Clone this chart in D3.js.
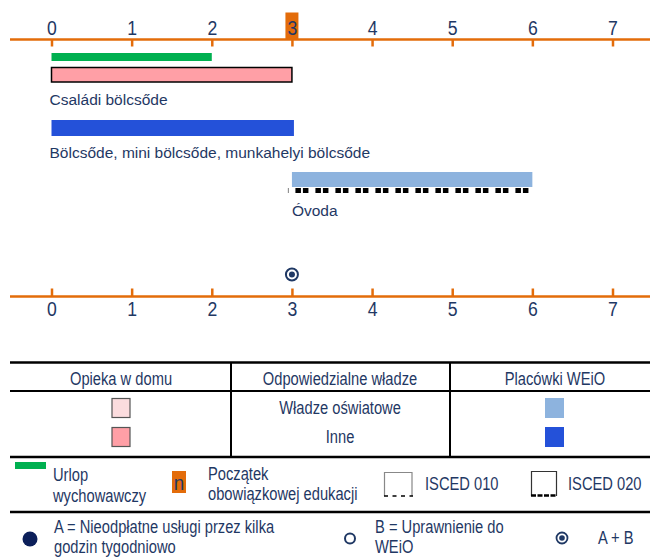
<!DOCTYPE html>
<html><head><meta charset="utf-8">
<script src="https://cdn.jsdelivr.net/npm/d3@7"></script>
<style>
body{margin:0;background:#fff;}
svg{display:block;}
</style></head>
<body>
<svg id="chart" width="650" height="558"></svg>
<script>
// ---- data ----
const ageTicks = [0,1,2,3,4,5,6,7];
const compulsoryStart = 3;
const leave = [{name:"Urlop wychowawczy", from:0, to:2}];
const homeCare = [{name:"Családi bölcsőde", from:0, to:3, type:"inne"}];
const ecec = [
  {name:"Bölcsőde, mini bölcsőde, munkahelyi bölcsőde", from:0, to:3, type:"inne", isced:null},
  {name:"Óvoda", from:3, to:6, type:"edu", isced:"020"}
];
const entitlement = [{age:3, kind:"A+B"}];
const tableHeaders = ["Opieka w domu","Odpowiedzialne władze","Placówki WEiO"];
const authorities = ["Władze oświatowe","Inne"];
const legendLabels = {
  leave:["Urlop","wychowawczy"],
  compulsory:["Początek","obowiązkowej edukacji"],
  isced010:"ISCED 010", isced020:"ISCED 020",
  A:["A = Nieodpłatne usługi przez kilka","godzin tygodniowo"],
  B:["B = Uprawnienie do","WEiO"],
  AB:"A + B"
};

// ---- styles ----
const C = {
  orange:"#e36c0a", navy:"#1f3864", green:"#00b050",
  pinkLight:"#fbdcde", pink:"#ff9fa6", blueLight:"#8db3de", blue:"#2451d9"
};
const regular = "'Liberation Sans',Arial,sans-serif";
const NX = 0.84; // horizontal condensing for narrow-looking text

const svg = d3.select("#chart");
const x = d3.scaleLinear().domain([0,7]).range([51.5,612.5]);

function styleAxis(g){
  g.select(".domain").remove();
  g.insert("line",":first-child").attr("x1",10).attr("x2",650).attr("stroke",C.orange).attr("stroke-width",2.5);
  g.selectAll(".tick line").attr("stroke",C.orange).attr("stroke-width",2.5);
  g.selectAll(".tick text").attr("fill",C.navy).style("font-family",regular).style("font-size","21px")
    .attr("transform",`scale(${NX},1)`);
}

// top axis
const topAxis = d3.axisTop(x).tickValues(ageTicks).tickFormat(d3.format("d"))
  .tickSizeInner(-7).tickSizeOuter(0).tickPadding(5);
const gTop = svg.append("g").attr("transform","translate(0,39.5)");
gTop.append("rect").attr("x",x(compulsoryStart)-6.5).attr("y",-27).attr("width",13).attr("height",27)
  .attr("fill",C.orange);
gTop.call(topAxis);
styleAxis(gTop);

// bottom axis
const botAxis = d3.axisBottom(x).tickValues(ageTicks).tickFormat(d3.format("d"))
  .tickSizeInner(-8).tickSizeOuter(0).tickPadding(5);
const gBot = svg.append("g").attr("transform","translate(0,296.5)").call(botAxis);
styleAxis(gBot);

// leave bar
svg.selectAll(".leave").data(leave).join("rect").attr("class","leave")
  .attr("x",d=>x(d.from)).attr("width",d=>x(d.to)-x(d.from))
  .attr("y",53).attr("height",8).attr("fill",C.green);

// home care bar
svg.selectAll(".home").data(homeCare).join("rect").attr("class","home")
  .attr("x",d=>x(d.from)).attr("width",d=>x(d.to)-x(d.from))
  .attr("y",67.5).attr("height",14.5).attr("fill",C.pink).attr("stroke","#000").attr("stroke-width",1.5);
svg.selectAll(".homeLbl").data(homeCare).join("text").attr("class","homeLbl")
  .attr("x",d=>x(d.from)-2).attr("y",105).text(d=>d.name)
  .attr("fill",C.navy).style("font-family",regular).style("font-size","15.5px");

// ecec bars
const ecY = [120, 172];
ecec.forEach((d,i)=>{
  const y0 = ecY[i];
  svg.append("rect").attr("x",x(d.from)).attr("width",x(d.to)-x(d.from)+(i===0?2:0))
    .attr("y",y0).attr("height",i===0?16:15).attr("fill",d.type==="edu"?C.blueLight:C.blue);
  if(d.isced==="020"){
    svg.append("line").attr("x1",x(d.from)-4).attr("x2",x(d.to)).attr("y1",y0+18.5).attr("y2",y0+18.5)
      .attr("stroke","#000").attr("stroke-width",5).attr("stroke-dasharray","5.5,2,5.5,7")
      .attr("stroke-dashoffset",-7.5);
  }
  svg.append("text").attr("x",x(d.from)-(i===0?2:0)).attr("y",y0+(i===0?38:44)).text(d.name)
    .attr("fill",C.navy).style("font-family",regular).style("font-size","15.5px");
});

// entitlement marker
entitlement.forEach(d=>{
  const g = svg.append("g").attr("transform",`translate(${x(d.age)},274.5)`);
  g.append("circle").attr("r",6).attr("fill","#fff").attr("stroke",C.navy).attr("stroke-width",2);
  g.append("circle").attr("r",3).attr("fill",C.navy);
});

// narrow text helper
function txt(xx,yy,s,anchor){
  return svg.append("text").attr("transform",`translate(${xx},${yy}) scale(${NX},1)`)
   .text(s).attr("text-anchor",anchor||"start")
   .attr("fill",C.navy).style("font-family",regular).style("font-size","17.5px");
}

// ---- table ----
const colX = [121, 340, 555];
svg.append("line").attr("x1",10).attr("x2",650).attr("y1",362.5).attr("y2",362.5).attr("stroke","#000").attr("stroke-width",2.5);
svg.append("line").attr("x1",10).attr("x2",650).attr("y1",391).attr("y2",391).attr("stroke","#000").attr("stroke-width",2);
[231,450].forEach(v=>svg.append("line").attr("x1",v).attr("x2",v).attr("y1",362).attr("y2",457).attr("stroke","#000").attr("stroke-width",2));
tableHeaders.forEach((d,i)=>txt(colX[i],385,d,"middle"));
const rowY = [408, 437];
authorities.forEach((d,i)=>txt(colX[1],rowY[i]+6,d,"middle"));
[C.pinkLight,C.pink].forEach((c,i)=>svg.append("rect").attr("x",colX[0]-9).attr("y",rowY[i]-9.5).attr("width",18).attr("height",19)
  .attr("fill",c).attr("stroke","#555").attr("stroke-width",1.2));
[C.blueLight,C.blue].forEach((c,i)=>svg.append("rect").attr("x",colX[2]-10).attr("y",rowY[i]-10).attr("width",19).attr("height",20)
  .attr("fill",c));

// ---- legend ----
svg.append("line").attr("x1",10).attr("x2",650).attr("y1",457).attr("y2",457).attr("stroke","#000").attr("stroke-width",2.5);
svg.append("line").attr("x1",10).attr("x2",650).attr("y1",512).attr("y2",512).attr("stroke","#000").attr("stroke-width",2.5);

svg.append("rect").attr("x",15).attr("y",462).attr("width",31).attr("height",7).attr("fill",C.green);
txt(53,481,legendLabels.leave[0]); txt(53,502,legendLabels.leave[1]);
svg.append("rect").attr("x",172).attr("y",471).attr("width",14).attr("height",22).attr("fill",C.orange);
svg.append("text").attr("transform","translate(179,490) scale(0.9,1)").attr("text-anchor","middle").text("n")
  .attr("fill",C.navy).style("font-family",regular).style("font-size","21px");
txt(208,480,legendLabels.compulsory[0]); txt(208,500,legendLabels.compulsory[1]);

// ISCED 010 box
const b1 = svg.append("g").attr("transform","translate(384,472)");
b1.append("path").attr("d","M0.5,24 V0.5 H28 V24").attr("fill","none").attr("stroke","#888").attr("stroke-width",1.2);
b1.append("line").attr("x1",0).attr("x2",29).attr("y1",24).attr("y2",24).attr("stroke","#000").attr("stroke-width",1.6).attr("stroke-dasharray","4,4.5");
txt(425,490,legendLabels.isced010);
const b2 = svg.append("g").attr("transform","translate(531,471)");
b2.append("path").attr("d","M0.5,25 V0.5 H25.5 V25").attr("fill","none").attr("stroke","#333").attr("stroke-width",1.2);
b2.append("line").attr("x1",0).attr("x2",26).attr("y1",24.5).attr("y2",24.5).attr("stroke","#000").attr("stroke-width",2.5).attr("stroke-dasharray","5,1.5");
txt(568,490,legendLabels.isced020);

// bottom row
svg.append("circle").attr("cx",30).attr("cy",539).attr("r",7.5).attr("fill","#0c1f5a");
txt(54,533,legendLabels.A[0]); txt(54,553,legendLabels.A[1]);
svg.append("circle").attr("cx",350).attr("cy",538.5).attr("r",5).attr("fill","#fff").attr("stroke",C.navy).attr("stroke-width",2);
txt(375,533,legendLabels.B[0]); txt(375,553,legendLabels.B[1]);
const ab = svg.append("g").attr("transform","translate(562,538)");
ab.append("circle").attr("r",5.5).attr("fill","#fff").attr("stroke",C.navy).attr("stroke-width",1.8);
ab.append("circle").attr("r",2.8).attr("fill",C.navy);
txt(598,544,legendLabels.AB);
</script>
</body></html>
